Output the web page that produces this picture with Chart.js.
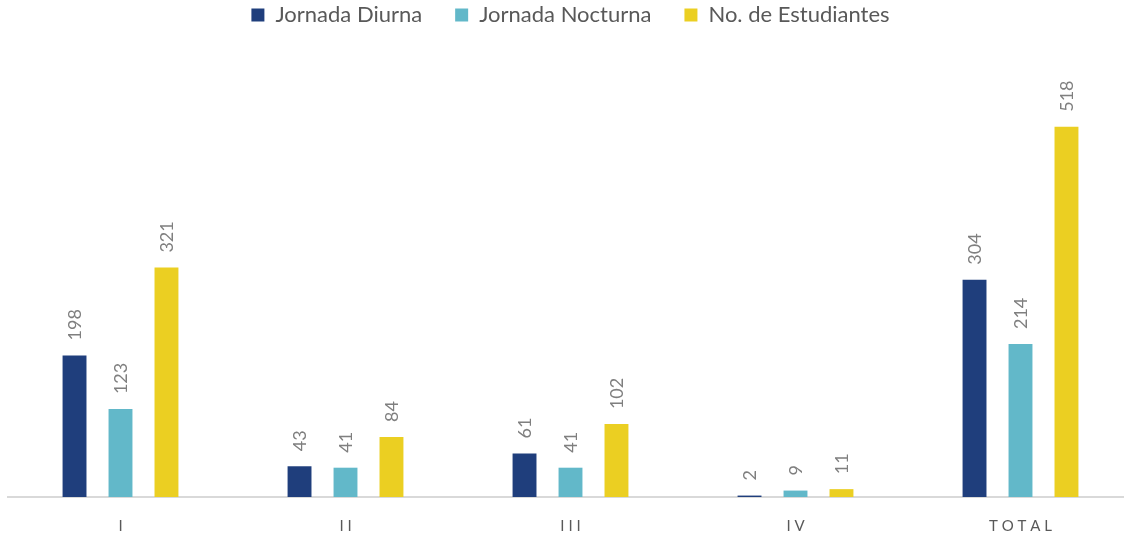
<!DOCTYPE html>
<html>
<head>
<meta charset="utf-8">
<script src="https://cdn.jsdelivr.net/npm/chart.js@4/dist/chart.umd.min.js"></script>
<style>
  html, body { margin: 0; padding: 0; background: #fff; overflow: hidden; }
  #wrap { width: 1133px; height: 537px; }
</style>
</head>
<body>
<div id="wrap"><canvas id="c" width="1133" height="537"></canvas></div>
<script>
const categories = ["I", "II", "III", "IV", "TOTAL"];
const tickLabels = ["I", "I I", "I I I", "I V", "T O T A L"];
const diurna = [198, 43, 61, 2, 304];
const nocturna = [123, 41, 41, 9, 214];
const estudiantes = [321, 84, 102, 11, 518];

// rotated value labels above each bar
const barLabels = {
  id: "barLabels",
  afterDatasetsDraw(chart) {
    const ctx = chart.ctx;
    ctx.save();
    ctx.font = "18px Lato";
    ctx.fillStyle = "#7f7f7f";
    ctx.textAlign = "left";
    ctx.textBaseline = "middle";
    chart.data.datasets.forEach((ds, i) => {
      chart.getDatasetMeta(i).data.forEach((bar, j) => {
        ctx.save();
        ctx.translate(bar.x + 1, bar.y - 15);
        ctx.rotate(-Math.PI / 2);
        ctx.fillText(String(ds.data[j]), 0, 0);
        ctx.restore();
      });
    });
    ctx.restore();
  }
};

new Chart(document.getElementById("c"), {
  type: "bar",
  data: {
    labels: tickLabels,
    datasets: [
      { label: "Jornada Diurna", data: diurna, backgroundColor: "#1f3e7c" },
      { label: "Jornada Nocturna", data: nocturna, backgroundColor: "#62b8c9" },
      { label: "No. de Estudiantes", data: estudiantes, backgroundColor: "#ebcf22" }
    ]
  },
  options: {
    responsive: false,
    animation: false,
    devicePixelRatio: 1,
    layout: { padding: { left: 8, right: 0, top: -29, bottom: -10 } },
    datasets: { bar: { barPercentage: 0.52, categoryPercentage: 0.613 } },
    plugins: {
      legend: {
        position: "top",
        labels: {
          boxWidth: 13,
          boxHeight: 13,
          padding: 33,
          color: "#595959",
          font: { family: "Lato", size: 22 }
        }
      },
      tooltip: { enabled: false }
    },
    scales: {
      x: {
        grid: { display: false },
        border: { display: true, color: "#d9d9d9", width: 2 },
        ticks: { color: "#595959", font: { family: "Lato", size: 15 }, padding: 12 }
      },
      y: {
        display: false,
        min: 0,
        max: 645
      }
    }
  },
  plugins: [barLabels]
});
</script>
</body>
</html>
